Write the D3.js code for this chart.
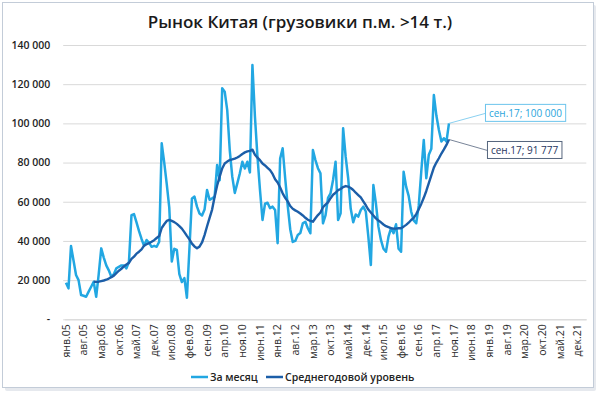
<!DOCTYPE html>
<html>
<head>
<meta charset="utf-8">
<script src="https://cdn.jsdelivr.net/npm/d3@7"></script>
<style>
  body { margin: 0; background: #fff; }
  svg text { font-family: "Open Sans", "DejaVu Sans", sans-serif; }
</style>
</head>
<body>
<div id="chart"></div>
<script>
const TITLE = "Рынок Китая (грузовики п.м. >14 т.)";
const MONTH_NAMES = ["янв", "фев", "мар", "апр", "май", "июн", "июл", "авг", "сен", "окт", "ноя", "дек"];
const FIRST_YEAR = 2005;
const AXIS_MONTHS = 207;   // янв.05 ... мар.22
const LABEL_STEP = 7;
const SERIES_NAMES = ["За месяц", "Среднегодовой уровень"];
const Y_TICKS = [0, 20000, 40000, 60000, 80000, 100000, 120000, 140000];

// за месяц, янв.05 ... сен.17
const monthly = [
  18700, 15800, 37400, 30000, 22600, 20000, 12400, 12000, 11500, 14100, 16600, 19200,
  11500, 23000, 36200, 31500, 27500, 25000, 21700, 23000, 26000, 26800, 27500, 27500,
  26000, 29400, 53200, 53700, 49500, 45000, 41000, 37500, 40500, 39000, 37000, 37500,
  37000, 39600, 89800, 80000, 69000, 57000, 29500, 36000, 35400, 23000, 19000, 21000,
  11000, 36000, 61700, 62600, 57500, 54000, 53000, 56000, 66000, 61000, 61700, 62600,
  78800, 71000, 117900, 116200, 106800, 86400, 72800, 64500, 69400, 74500, 80400, 77000,
  80400, 75000, 129800, 103400, 83000, 66000, 50700, 59000, 59500, 56700, 57500, 55800,
  38800, 82000, 87300, 72000, 58000, 46000, 39500, 40000, 43000, 44000, 49000, 49800,
  46500, 43900, 86400, 81300, 77100, 74500, 49000, 53000, 62000, 64300, 71100, 80400,
  50700, 54100, 97500, 83000, 72000, 56500, 49500, 53500, 52400, 55800, 57500, 55000,
  42200, 27700, 68500, 59200, 47300, 40500, 36000, 34500, 42200, 46500, 44000, 48500,
  36000, 34500, 75300, 67700, 63000, 55000, 50500, 49000, 58000, 75300, 91500, 72000,
  84000, 87000, 114500, 104000, 96600, 90700, 92400, 90700, 100000
];

// среднегодовой уровень, дек.05 ... сен.17
const AVG_START = 11;
const yearAvg = [
  19200,
  19100, 19200, 19500, 19800, 20200, 20800, 21500, 22300, 23600, 24800, 25800, 27000,
  28000, 28800, 30800, 32000, 33500, 34500, 35700, 37600, 38300, 38900, 39600, 40400,
  41500, 42500, 46600, 48500, 50200, 50700, 50200, 49600, 48700, 47600, 46300, 44500,
  42600, 40800, 38600, 37200, 36300, 37100, 39200, 43000, 47500, 51800, 56000, 62500,
  68300, 72800, 77000, 79500, 80500, 81300, 81600, 82000, 82600, 83400, 84400, 85200,
  85700, 86000, 86600, 84000, 82500, 81200, 79500, 78500, 77300, 76100, 74200, 71500,
  69800, 67300, 64300, 62000, 60200, 57800, 56400, 55600, 54900, 54000, 53000, 51800,
  50800, 50200, 49800, 51600, 53200, 54500, 57200, 58500, 59700, 61800, 63600, 64600,
  65900, 66500, 67500, 68000, 67700, 67000, 66000, 64600, 63400, 62200, 60200, 58200,
  56000, 54500, 53000, 51500, 50400, 49500, 48400, 47500, 47000, 46500, 46300, 46300,
  46500, 46500, 47300, 48200, 49300, 50700, 51800, 53700, 56200, 58900, 62000, 65500,
  69500, 73400, 77400, 80000, 82200, 84600, 86700, 89000, 91777
];

const W = 600, H = 394;
const PLOT = { left: 64.7, right: 586.3, top: 45, bottom: 319.3 };
const C_MONTH = "#22a7e2", C_AVG = "#1c5ea8";

const months = d3.range(AXIS_MONTHS).map(i =>
  MONTH_NAMES[i % 12] + "." + String((FIRST_YEAR + Math.floor(i / 12)) % 100).padStart(2, "0"));

const fmt = v => v === 0 ? "-" : d3.format(",")(v).replace(/,/g, " ");
const fmtExact = v => d3.format(",")(v).replace(/,/g, " ");

const svg = d3.select("#chart").append("svg")
  .attr("width", W).attr("height", H);

// frame
svg.append("rect").attr("x", 5).attr("y", 5).attr("width", 591).attr("height", 386)
  .attr("fill", "#e6e9ee").attr("rx", 2);
svg.append("rect").attr("x", 2.5).attr("y", 2.5).attr("width", 591).attr("height", 385)
  .attr("fill", "#fff").attr("stroke", "#c3ccd8").attr("stroke-width", 1);

const x = d3.scaleBand().domain(months).range([PLOT.left, PLOT.right]);
const cx = m => x(m) + x.bandwidth() / 2;
const y = d3.scaleLinear().domain([0, 140000]).range([PLOT.bottom, PLOT.top]);

svg.append("text")
  .attr("x", W / 2).attr("y", 28)
  .attr("text-anchor", "middle")
  .attr("font-size", "17px").attr("font-weight", 600).attr("fill", "#1a1a1a")
  .text(TITLE);

// y axis + grid
const gy = svg.append("g")
  .attr("transform", `translate(${PLOT.left - 1.5},0)`)
  .call(d3.axisLeft(y).tickValues(Y_TICKS).tickFormat(fmt)
    .tickSize(-(PLOT.right - PLOT.left + 1.5)).tickPadding(13));
gy.select(".domain").remove();
gy.selectAll("line").attr("stroke", "#d9d9d9");
gy.selectAll("text").attr("font-size", "10.5px").attr("font-weight", 600).attr("fill", "#1e1e1e");

// x axis
const gx = svg.append("g")
  .attr("transform", `translate(0,${PLOT.bottom})`)
  .call(d3.axisBottom(x)
    .tickValues(months.filter((d, i) => i % LABEL_STEP === 0))
    .tickSize(0));
gx.select(".domain").attr("stroke", "#d9d9d9");
gx.selectAll("text")
  .attr("transform", "rotate(-90)")
  .attr("x", -5).attr("y", 0).attr("dy", "0.35em")
  .attr("text-anchor", "end")
  .attr("font-size", "10.5px").attr("fill", "#2a2a2a");

// lines
const monthPts = monthly.map((v, i) => ({ m: months[i], v }));
const avgPts = yearAvg.map((v, i) => ({ m: months[i + AVG_START], v }));
const line = d3.line().x(d => cx(d.m)).y(d => y(d.v));

svg.append("path").datum(monthPts)
  .attr("fill", "none").attr("stroke", C_MONTH).attr("stroke-width", 2.5)
  .attr("stroke-linejoin", "round").attr("d", line);
svg.append("path").datum(avgPts)
  .attr("fill", "none").attr("stroke", C_AVG).attr("stroke-width", 2.4)
  .attr("stroke-linejoin", "round").attr("d", line);

// data labels for last points
function callout(pt, dx, dy, color, border) {
  const px = cx(pt.m), py = y(pt.v);
  const label = pt.m + "; " + fmtExact(pt.v);
  const g = svg.append("g");
  const t = g.append("text")
    .attr("x", px + dx + 4).attr("y", py + dy)
    .attr("dy", "0.35em")
    .attr("font-size", "10px").attr("fill", color)
    .text(label);
  const bb = t.node().getBBox();
  g.insert("rect", "text")
    .attr("x", bb.x - 3.5).attr("y", bb.y - 1.5)
    .attr("width", bb.width + 7).attr("height", bb.height + 3)
    .attr("fill", "#fff").attr("stroke", border).attr("stroke-width", 1);
  g.insert("line", "rect")
    .attr("x1", px).attr("y1", py)
    .attr("x2", bb.x - 3.5).attr("y2", py + dy)
    .attr("stroke", border).attr("stroke-width", 0.8);
}
callout(monthPts[monthPts.length - 1], 36, -10, "#2aa5dc", "#6cc4ec");
callout(avgPts[avgPts.length - 1], 38, 11, "#1f3560", "#55657d");

// legend
const legend = svg.append("g").attr("transform", "translate(0,377)");
[[SERIES_NAMES[0], C_MONTH, 191], [SERIES_NAMES[1], C_AVG, 266]].forEach(([name, col, lx]) => {
  legend.append("line").attr("x1", lx).attr("x2", lx + 17).attr("y1", 0).attr("y2", 0)
    .attr("stroke", col).attr("stroke-width", 2.5);
  legend.append("text").attr("x", lx + 19).attr("y", 0).attr("dy", "0.35em")
    .attr("font-size", "10.5px").attr("font-weight", 600).attr("fill", "#222")
    .text(name);
});
</script>
</body>
</html>
